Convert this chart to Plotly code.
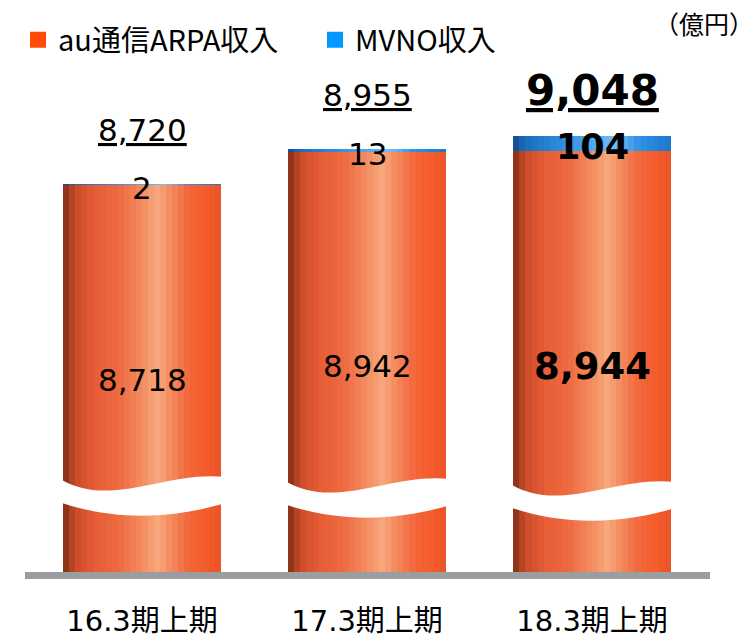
import plotly.graph_objects as go

# ---- data ----
categories = ["16.3期上期", "17.3期上期", "18.3期上期"]
arpa = [8718, 8942, 8944]
mvno = [2, 13, 104]
series_names = ["au通信ARPA収入", "MVNO収入"]
unit_label = "（億円）"
totals = [a + m for a, m in zip(arpa, mvno)]

# ---- style ----
W, H = 756, 641
ML, MR, MT, MB = 25, 46, 70, 69
Y_RANGE = [6109, 9489]
X_RANGE = [-0.52, 2.524]
BAR_W = 0.70
N_STRIPES = 26
NUM_FONT = "DejaVu Sans"
JP_FONT = "Noto Sans CJK JP, Noto Sans, sans-serif"
TICK_FONT = "DejaVu Sans, Noto Sans CJK JP, sans-serif"

orange_stops = [
    (0.00, (115, 42, 22)), (0.04, (170, 62, 33)), (0.10, (208, 78, 44)),
    (0.20, (230, 93, 54)), (0.35, (238, 106, 64)), (0.50, (243, 140, 95)),
    (0.60, (247, 168, 124)), (0.68, (244, 140, 96)), (0.80, (242, 102, 58)),
    (0.92, (245, 90, 42)), (1.00, (232, 84, 40)),
]
blue_stops = [
    (0.00, (18, 70, 140)), (0.08, (28, 110, 190)), (0.30, (45, 140, 220)),
    (0.55, (90, 175, 240)), (0.65, (120, 190, 245)), (0.80, (45, 145, 228)),
    (1.00, (30, 120, 205)),
]


def grad(stops, t):
    for (t0, c0), (t1, c1) in zip(stops[:-1], stops[1:]):
        if t0 <= t <= t1:
            f = (t - t0) / (t1 - t0) if t1 > t0 else 0
            c = [round(a + (b - a) * f) for a, b in zip(c0, c1)]
            return f"rgb({c[0]},{c[1]},{c[2]})"
    c = stops[-1][1]
    return f"rgb({c[0]},{c[1]},{c[2]})"


fig = go.Figure()
sw = BAR_W / N_STRIPES
for i in range(N_STRIPES):
    t = (i + 0.5) / N_STRIPES
    off = -BAR_W / 2 + i * sw
    fig.add_trace(go.Bar(
        x=categories, y=arpa, offset=off, width=sw * 1.1,
        marker=dict(color=grad(orange_stops, t), line=dict(width=0)),
        showlegend=False, hoverinfo="skip"))
    fig.add_trace(go.Bar(
        x=categories, y=mvno, base=arpa, offset=off, width=sw * 1.1,
        marker=dict(color=grad(blue_stops, t), line=dict(width=0)),
        showlegend=False, hoverinfo="skip"))

# legend entries
for name, col in zip(series_names, ["#FF4A0A", "#0099FF"]):
    fig.add_trace(go.Scatter(
        x=[None], y=[None], mode="markers", name=name,
        marker=dict(symbol="square", size=22, color=col)))


def py2paper(py):
    return (H - MB - py) / (H - MT - MB)


# ---- axis break (white wavy band) ----
break_offsets = [0, 2, 5]
shapes = []
for i, dy in enumerate(break_offsets):
    L, R = i - 0.37, i + 0.37
    Wd = R - L
    t_l, t_c1, t_c2, t_r = 478 + dy, 510 + dy, 470 + dy, 477 + dy
    b_l, b_c1, b_c2, b_r = 502 + dy, 522 + dy, 518 + dy, 503 + dy
    p = py2paper
    path = (f"M {L},{p(t_l)} C {L + 0.3 * Wd},{p(t_c1)} {L + 0.65 * Wd},{p(t_c2)} {R},{p(t_r)} "
            f"L {R},{p(b_r)} C {L + 0.7 * Wd},{p(b_c2)} {L + 0.35 * Wd},{p(b_c1)} {L},{p(b_l)} Z")
    shapes.append(dict(type="path", path=path, xref="x", yref="paper",
                       fillcolor="white", line=dict(width=0), layer="above"))

# ---- labels ----
arpa_label_py = [380, 366, 367]
annotations = []
for i, cat in enumerate(categories):
    bold = i == len(categories) - 1
    tot_txt = f"{totals[i]:,}"
    mv_txt = f"{mvno[i]:,}"
    ar_txt = f"{arpa[i]:,}"
    if bold:
        tot_txt, mv_txt, ar_txt = f"<b>{tot_txt}</b>", f"<b>{mv_txt}</b>", f"<b>{ar_txt}</b>"
    annotations.append(dict(
        x=cat, y=totals[i], xref="x", yref="y", text=f"<u>{tot_txt}</u>",
        showarrow=False, yanchor="middle", yshift=45 if bold else 54,
        font=dict(family=NUM_FONT, size=42 if bold else 31, color="black")))
    annotations.append(dict(
        x=cat, y=arpa[i] + mvno[i] / 2, xref="x", yref="y", text=mv_txt,
        showarrow=False, yanchor="middle", yshift=-4,
        font=dict(family=NUM_FONT, size=35 if bold else 31, color="black")))
    annotations.append(dict(
        x=cat, y=py2paper(arpa_label_py[i]), xref="x", yref="paper", text=ar_txt,
        showarrow=False, yanchor="middle",
        font=dict(family=NUM_FONT, size=37 if bold else 31, color="black")))

annotations.append(dict(
    x=1.0, y=py2paper(23), xref="paper", yref="paper", text=unit_label,
    showarrow=False, xanchor="right", yanchor="middle", xshift=MR,
    font=dict(family=JP_FONT, size=25, color="black")))

fig.update_layout(
    width=W, height=H,
    margin=dict(l=ML, r=MR, t=MT, b=MB, autoexpand=False),
    barmode="overlay", bargap=0,
    plot_bgcolor="white", paper_bgcolor="white",
    shapes=shapes, annotations=annotations,
    showlegend=True,
    legend=dict(orientation="h", x=18 / W, xref="container", y=1 - 40 / H, yref="container",
                yanchor="middle", xanchor="left",
                font=dict(family=JP_FONT, size=29, color="black"),
                itemsizing="trace", tracegroupgap=0,
                entrywidth=252, entrywidthmode="pixels"),
    xaxis=dict(type="category", range=X_RANGE, showgrid=False, zeroline=False,
               automargin=False,
               showline=True, linewidth=7, linecolor="#9A9EA1",
               ticks="outside", ticklen=17, tickcolor="rgba(0,0,0,0)",
               tickfont=dict(family=TICK_FONT, size=29, color="black")),
    yaxis=dict(range=Y_RANGE, visible=False, showgrid=False, zeroline=False,
               automargin=False),
    hovermode=False,
)

fig.write_html("out.html", config={"displayModeBar": False},
               post_script="document.body.style.margin='0';document.body.style.overflow='hidden';")
